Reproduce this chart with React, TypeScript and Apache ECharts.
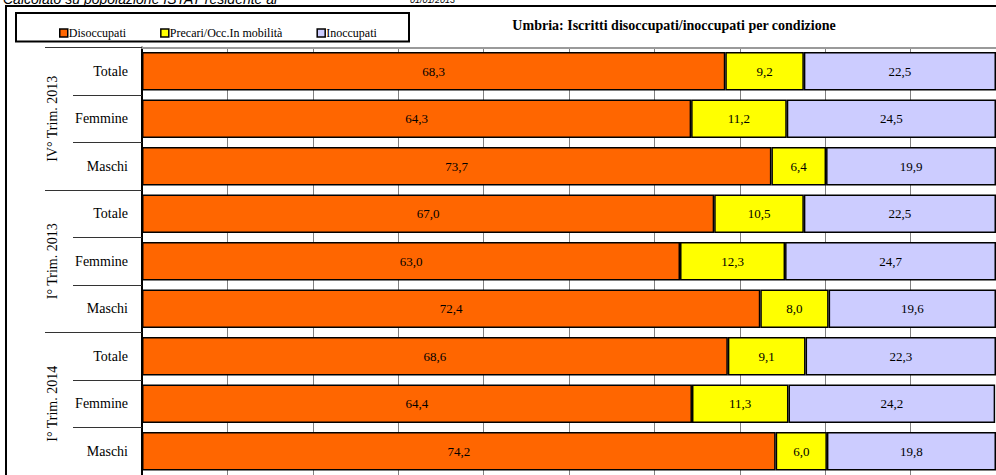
import React, { useEffect, useRef } from "react";
import * as echarts from "echarts";

const categories = [
  "Totale", "Femmine", "Maschi",
  "Totale", "Femmine", "Maschi",
  "Totale", "Femmine", "Maschi",
];
const groups = ["IV° Trim. 2013", "I° Trim. 2013", "I° Trim. 2014"];
const disoccupati = [68.3, 64.3, 73.7, 67.0, 63.0, 72.4, 68.6, 64.4, 74.2];
const precari = [9.2, 11.2, 6.4, 10.5, 12.3, 8.0, 9.1, 11.3, 6.0];
const inoccupati = [22.5, 24.5, 19.9, 22.5, 24.7, 19.6, 22.3, 24.2, 19.8];
const seriesNames = ["Disoccupati", "Precari/Occ.In mobilità", "Inoccupati"];
const seriesColors = ["#FF6600", "#FFFF00", "#CCCCFF"];
const titleText = "Umbria: Iscritti disoccupati/inoccupati per condizione";
const noteText = "Calcolato su popolazione ISTAT residente al";
const noteDate = "01/01/2013";

const SERIF = "'Liberation Serif', 'Times New Roman', serif";

export default function App() {
  const ref = useRef<HTMLDivElement>(null);
  useEffect(() => {
    document.body.style.margin = "0";
    const chart = echarts.init(ref.current!, null, { renderer: "svg" });
    const fmt = (p: any) => Number(p.value).toFixed(1).replace(".", ",");
    const allData = [disoccupati, precari, inoccupati];
    chart.setOption({
      animation: false,
      backgroundColor: "#ffffff",
      textStyle: { fontFamily: SERIF },
      grid: { left: 142, top: 47.5, width: 857, height: 429, containLabel: false },
      legend: {
        left: 54,
        top: 22,
        itemWidth: 8,
        itemHeight: 8,
        itemGap: 34,
        icon: "rect",
        data: seriesNames,
        itemStyle: { borderColor: "#000", borderWidth: 1.5 },
        textStyle: { fontFamily: SERIF, fontSize: 12, color: "#000", padding: [0, 0, 0, -4] },
      },
      xAxis: {
        type: "value",
        min: 0,
        max: 100,
        interval: 10,
        position: "top",
        axisLine: { show: true, lineStyle: { color: "#9a9a9a", width: 2 } },
        axisTick: { show: false },
        axisLabel: { show: false },
        splitLine: { show: true, lineStyle: { color: "#808080", width: 1 } },
      },
      yAxis: [
        {
          type: "category",
          data: categories,
          inverse: true,
          position: "left",
          axisLine: { show: true, lineStyle: { color: "#000", width: 2 } },
          axisTick: { show: true, length: 69, lineStyle: { color: "#333", width: 1 } },
          axisLabel: { fontSize: 14, color: "#000", fontFamily: SERIF, margin: 14 },
        },
        {
          type: "category",
          data: groups,
          inverse: true,
          position: "left",
          axisLine: { show: false },
          axisTick: { show: true, length: 97, lineStyle: { color: "#333", width: 1 } },
          axisLabel: { fontSize: 14, color: "#000", fontFamily: SERIF, rotate: 90, margin: 83 },
        },
      ],
      series: seriesNames.map((name, i) => ({
        name,
        type: "bar",
        stack: "tot",
        yAxisIndex: 0,
        barCategoryGap: "19%",
        data: allData[i],
        itemStyle: { color: seriesColors[i], borderColor: "#000", borderWidth: 1.5 },
        label: {
          show: true,
          position: "inside",
          color: "#000",
          fontSize: 13,
          fontFamily: SERIF,
          formatter: fmt,
        },
      })),
      graphic: [
        {
          type: "rect",
          shape: { x: 6, y: 6, width: 1010, height: 490 },
          style: { fill: "none", stroke: "#000", lineWidth: 2 },
          silent: true,
          z: 100,
        },
        {
          type: "rect",
          shape: { x: 16, y: 13, width: 393, height: 28.5 },
          style: { fill: "none", stroke: "#000", lineWidth: 2 },
          silent: true,
          z: 100,
        },
        {
          type: "text",
          x: 674,
          y: 25,
          style: {
            text: titleText,
            fontFamily: SERIF,
            fontWeight: "bold",
            fontSize: 14,
            fill: "#000",
            textAlign: "center",
            textVerticalAlign: "middle",
          },
        },
        {
          type: "text",
          x: 3,
          y: 5.5,
          style: {
            text: noteText,
            fontFamily: "'Liberation Sans', Arial, sans-serif",
            fontStyle: "italic",
            fontSize: 14,
            fill: "#000",
            textAlign: "left",
            textVerticalAlign: "bottom",
          },
        },
        {
          type: "text",
          x: 410,
          y: 4.5,
          style: {
            text: noteDate,
            fontFamily: "'Liberation Sans', Arial, sans-serif",
            fontStyle: "italic",
            fontSize: 9,
            fill: "#000",
            textAlign: "left",
            textVerticalAlign: "bottom",
          },
        },
      ],
    });
    return () => chart.dispose();
  }, []);
  return (
    <div
      ref={ref}
      style={{ position: "absolute", left: 0, top: 0, width: 996, height: 475, overflow: "hidden" }}
    />
  );
}
